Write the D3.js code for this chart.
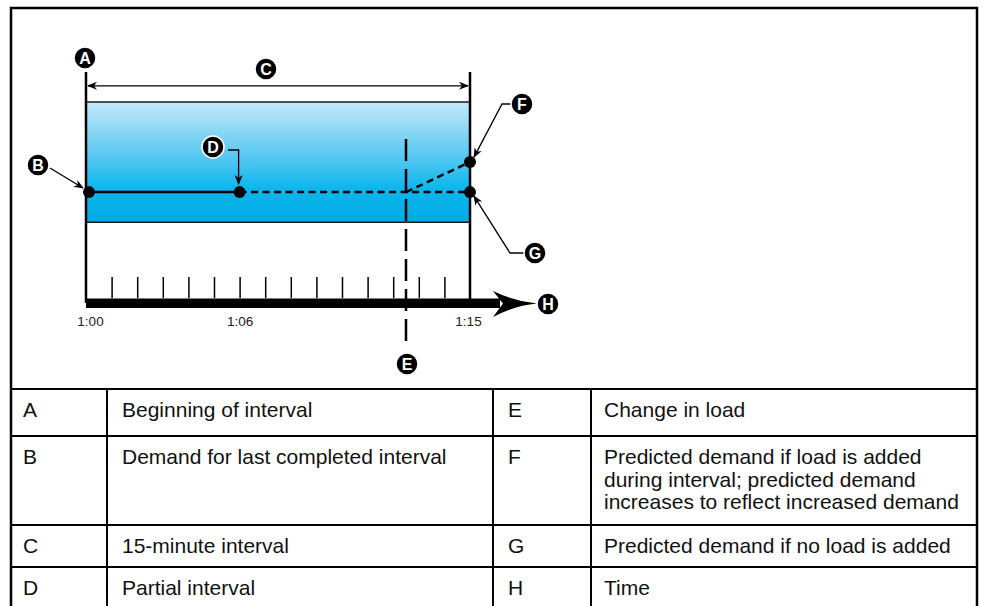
<!DOCTYPE html>
<html>
<head>
<meta charset="utf-8">
<script src="https://cdn.jsdelivr.net/npm/d3@7/dist/d3.min.js"></script>
<style>
body { margin: 0; background: #fff; }
svg text { font-family: "Liberation Sans", Arial, sans-serif; }
</style>
</head>
<body>
<div id="graph"></div>
<script>
// Demand interval data (minutes into the interval, demand in arbitrary units)
var tickMinutes = [0, 1, 2, 3, 4, 5, 6, 7, 8, 9, 10, 11, 12, 13, 14, 15];
var labelMinutes = [0, 6, 15];
var labelTexts = ["1:00", "1:06", "1:15"];

var intervalStart = 0,
    intervalEnd = 15,
    partialMinute = 6,
    loadChangeMinute = 12.5;

var demandBand = [35, 87];
var lastDemand = 48;
var predictedWithLoad = 61;

// Legend table
var keyLetters = ["A", "B", "C", "D"];
var keyTexts = [["Beginning of interval"], ["Demand for last completed interval"], ["15-minute interval"], ["Partial interval"]];
var keyLetters2 = ["E", "F", "G", "H"];
var keyTexts2 = [["Change in load"],
    ["Predicted demand if load is added", "during interval; predicted demand", "increases to reflect increased demand"],
    ["Predicted demand if no load is added"],
    ["Time"]];

var width = 986, height = 606;

var svg = d3.select("#graph")
    .append("svg")
        .attr("width", width)
        .attr("height", height);

// Set the ranges
var x = d3.scaleLinear().domain([intervalStart, intervalEnd]).range([86, 470]);
var y = d3.scaleLinear().domain([0, 100]).range([303, 72]);

var defs = svg.append("defs");

var grad = defs.append("linearGradient")
    .attr("id", "band")
    .attr("x1", 0).attr("y1", 0).attr("x2", 0).attr("y2", 1);
grad.append("stop").attr("offset", "0%").attr("stop-color", "#c4e9f9");
grad.append("stop").attr("offset", "45%").attr("stop-color", "#58c8f1");
grad.append("stop").attr("offset", "72%").attr("stop-color", "#0cb6ec");
grad.append("stop").attr("offset", "100%").attr("stop-color", "#01ace5");

defs.append("marker")
    .attr("id", "tip")
    .attr("viewBox", "0 0 10 10")
    .attr("refX", 9).attr("refY", 5)
    .attr("markerWidth", 10).attr("markerHeight", 10)
    .attr("markerUnits", "userSpaceOnUse")
    .attr("orient", "auto-start-reverse")
  .append("path")
    .attr("d", "M0,1 L10,5 L0,9 L3,5 Z")
    .attr("fill", "#000");

// outer frame
svg.append("rect")
    .attr("x", 11).attr("y", 8)
    .attr("width", 966).attr("height", 620)
    .attr("fill", "none")
    .attr("stroke", "#000")
    .attr("stroke-width", 2.5);

// blue band
svg.append("rect")
    .attr("x", x(intervalStart))
    .attr("y", y(demandBand[1]))
    .attr("width", x(intervalEnd) - x(intervalStart))
    .attr("height", y(demandBand[0]) - y(demandBand[1]))
    .attr("fill", "url(#band)");

svg.selectAll(".bandedge")
    .data(demandBand)
    .enter().append("line")
    .attr("class", "bandedge")
    .attr("x1", x(intervalStart)).attr("x2", x(intervalEnd))
    .attr("y1", function(d) { return y(d); })
    .attr("y2", function(d) { return y(d); })
    .attr("stroke", "#1a1a1a")
    .attr("stroke-width", 1.5);

// minute ticks
svg.append("g")
    .attr("transform", "translate(0," + (y(0) - 5) + ")")
    .call(d3.axisTop(x).tickValues(tickMinutes.slice(1, -1)).tickSize(21).tickFormat(""))
    .call(function(g) { g.select(".domain").remove(); })
    .selectAll("line")
        .attr("stroke", "#000")
        .attr("stroke-width", 1.5);

// time labels
svg.append("g")
    .attr("transform", "translate(0," + (y(0) + 10) + ")")
    .call(d3.axisBottom(x).tickValues(labelMinutes).tickSize(0)
        .tickFormat(function(d, i) { return labelTexts[i]; }))
    .call(function(g) { g.select(".domain").remove(); })
    .selectAll("text")
        .attr("font-family", "Liberation Sans, Arial, sans-serif")
        .attr("font-size", 13.5)
        .attr("fill", "#222")
        .attr("dx", function(d, i) { return i === 0 ? 4 : (i === 2 ? -2 : 0); });

// interval boundaries
svg.selectAll(".bound")
    .data([intervalStart, intervalEnd])
    .enter().append("line")
    .attr("class", "bound")
    .attr("x1", function(d) { return x(d); })
    .attr("x2", function(d) { return x(d); })
    .attr("y1", y(100))
    .attr("y2", y(0))
    .attr("stroke", "#000")
    .attr("stroke-width", 2.5);

// time axis bar with arrow
svg.append("rect")
    .attr("x", x(intervalStart))
    .attr("y", y(0) - 4.5)
    .attr("width", x(intervalEnd) - x(intervalStart) + 30)
    .attr("height", 9.5)
    .attr("fill", "#000");

var ax = x(intervalEnd) + 23, ay = y(0) + 0.5;
svg.append("path")
    .attr("d", "M" + ax + "," + (ay - 12.5) +
        " Q" + (ax + 22) + "," + (ay - 2) + " " + (ax + 44) + "," + ay +
        " Q" + (ax + 22) + "," + (ay + 2) + " " + ax + "," + (ay + 13.5) +
        " L" + (ax + 10) + "," + ay + " Z")
    .attr("fill", "#000");

// 15-minute dimension arrow
svg.append("line")
    .attr("x1", x(intervalStart) + 2).attr("x2", x(intervalEnd) - 2)
    .attr("y1", y(94)).attr("y2", y(94))
    .attr("stroke", "#000")
    .attr("stroke-width", 1.3)
    .attr("marker-start", "url(#tip)")
    .attr("marker-end", "url(#tip)");

// change in load
svg.append("line")
    .attr("x1", x(loadChangeMinute)).attr("x2", x(loadChangeMinute))
    .attr("y1", y(71)).attr("y2", y(-19))
    .attr("stroke", "#000")
    .attr("stroke-width", 2.5)
    .attr("stroke-dasharray", "22,8");

// demand lines
var line = d3.line()
    .x(function(d) { return x(d[0]); })
    .y(function(d) { return y(d[1]); });

svg.append("path")
    .attr("d", line([[intervalStart, lastDemand], [partialMinute, lastDemand]]))
    .attr("fill", "none").attr("stroke", "#000").attr("stroke-width", 2.5);

svg.append("path")
    .attr("d", line([[partialMinute, lastDemand], [intervalEnd, lastDemand]]))
    .attr("fill", "none").attr("stroke", "#000").attr("stroke-width", 2.5)
    .attr("stroke-dasharray", "7,4.5");

svg.append("path")
    .attr("d", line([[loadChangeMinute, lastDemand], [intervalEnd, predictedWithLoad]]))
    .attr("fill", "none").attr("stroke", "#000").attr("stroke-width", 2.5)
    .attr("stroke-dasharray", "7,4.5");

var dots = [[intervalStart, lastDemand], [partialMinute, lastDemand], [intervalEnd, lastDemand], [intervalEnd, predictedWithLoad]];
svg.selectAll(".dot")
    .data(dots)
    .enter().append("circle")
    .attr("class", "dot")
    .attr("cx", function(d, i) { return x(d[0]) + (i === 0 ? 3 : 0); })
    .attr("cy", function(d) { return y(d[1]); })
    .attr("r", 6)
    .attr("fill", "#000");

// leader lines
var leaders = [
    [[50, 168], [83, 188]],
    [[228, 150], [x(partialMinute) - 1, 150], [x(partialMinute) - 1, y(lastDemand) - 8]],
    [[512, 104], [502, 104], [474, y(predictedWithLoad) - 5]],
    [[525, 253], [510, 253], [474, y(lastDemand) + 4]]
];
svg.selectAll(".leader")
    .data(leaders)
    .enter().append("path")
    .attr("class", "leader")
    .attr("d", d3.line())
    .attr("fill", "none")
    .attr("stroke", "#000")
    .attr("stroke-width", 1.3)
    .attr("marker-end", "url(#tip)");

// callout badges
var badges = [
    {k: "A", cx: 85, cy: 58},
    {k: "B", cx: 38, cy: 165},
    {k: "C", cx: 266, cy: 69},
    {k: "D", cx: 213, cy: 147},
    {k: "E", cx: 407, cy: 364},
    {k: "F", cx: 522, cy: 104},
    {k: "G", cx: 535, cy: 253},
    {k: "H", cx: 548, cy: 304}
];
var badge = svg.selectAll(".badge")
    .data(badges)
    .enter().append("g")
    .attr("class", "badge")
    .attr("transform", function(d) { return "translate(" + d.cx + "," + d.cy + ")"; });
badge.append("circle")
    .attr("r", 11)
    .attr("fill", "#000")
    .attr("stroke", "#fff")
    .attr("stroke-width", 1.5);
badge.append("text")
    .attr("text-anchor", "middle")
    .attr("dy", "0.36em")
    .attr("font-size", 16)
    .attr("font-weight", "bold")
    .attr("fill", "#fff")
    .text(function(d) { return d.k; });

// key table
var rowEdges = [389, 436, 525, 567, 630];
var colEdges = [11, 107, 493, 591, 977];

svg.selectAll(".hrule")
    .data(rowEdges.slice(0, -1))
    .enter().append("line")
    .attr("x1", colEdges[0]).attr("x2", colEdges[4])
    .attr("y1", function(d) { return d; })
    .attr("y2", function(d) { return d; })
    .attr("stroke", "#000").attr("stroke-width", 2);

svg.selectAll(".vrule")
    .data(colEdges.slice(1, -1))
    .enter().append("line")
    .attr("x1", function(d) { return d; })
    .attr("x2", function(d) { return d; })
    .attr("y1", rowEdges[0]).attr("y2", rowEdges[4])
    .attr("stroke", "#000").attr("stroke-width", 2);

var cols = [
    {vals: keyLetters, x: 23}, {vals: keyTexts, x: 122},
    {vals: keyLetters2, x: 508}, {vals: keyTexts2, x: 604}
];
cols.forEach(function(c) {
    svg.selectAll(null)
        .data(c.vals)
        .enter().append("text")
        .attr("x", c.x)
        .attr("y", function(d, i) { return rowEdges[i] + 28; })
        .attr("font-size", 21)
        .attr("fill", "#111")
        .each(function(d) {
            var lines = typeof d === "string" ? [d] : d;
            d3.select(this).selectAll("tspan")
                .data(lines)
                .enter().append("tspan")
                .attr("x", c.x)
                .attr("dy", function(t, j) { return j === 0 ? 0 : 22.5; })
                .text(function(t) { return t; });
        });
});
</script>
</body>
</html>
